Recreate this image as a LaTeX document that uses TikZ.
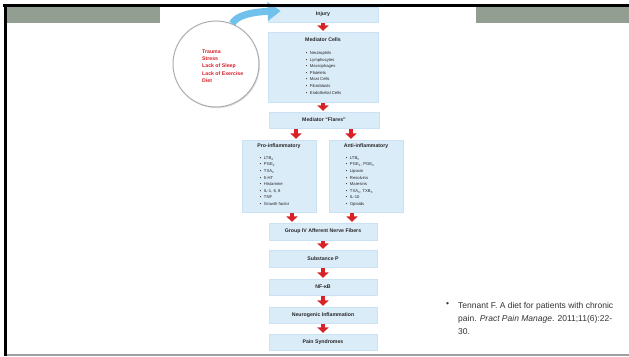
\documentclass[tikz,border=0pt]{standalone}
\usepackage{fontspec}
\setmainfont{Liberation Sans}
\usetikzlibrary{arrows.meta,shadows,calc}
\definecolor{boxblue}{RGB}{219,236,249}
\definecolor{boxedge}{RGB}{202,226,244}
\definecolor{redarrow}{RGB}{216,34,40}
\definecolor{bluearrow}{RGB}{112,193,235}
\definecolor{barcol}{RGB}{146,158,146}
\definecolor{circtext}{RGB}{214,30,40}
\newcommand{\bitem}[1]{\textbullet\hspace{2.6pt}#1}
\begin{document}
\begin{tikzpicture}[x=1pt,y=-1pt,
  flowbox/.style={rectangle, fill=boxblue, draw=boxedge, line width=0.6pt, inner sep=0pt},
  head/.style={font=\fontsize{5.2}{6}\selectfont\bfseries, inner sep=0pt, text=black!85},
  items/.style={font=\fontsize{4.2}{6.6}\selectfont, align=left, inner sep=0pt, anchor=north west, text=black!85},
  redarr/.style={draw=redarrow, line width=4pt, -{Triangle[width=11pt,length=5.5pt]}, shorten <=1pt, shorten >=0.8pt},
  bluearr/.style={draw=bluearrow, line width=7pt, -{Triangle[width=18pt,length=13pt]}},
  risk/.style={circle, draw=gray!65, line width=1pt, fill=white, minimum size=86pt, inner sep=0pt,
    drop shadow={opacity=0.25, shadow xshift=1pt, shadow yshift=-1.2pt}},
  risktext/.style={font=\fontsize{5.2}{7.3}\selectfont\bfseries, text=circtext, align=left, inner sep=0pt, anchor=north west},
  cite/.style={font=\fontsize{8.5}{13}\selectfont, align=left, inner sep=0pt, text=black!80}
]
\useasboundingbox (0,0) rectangle (629,356);

% frame
\fill[barcol] (7,7) rectangle (160,23);
\fill[barcol] (476,7) rectangle (629,23);

% boxes
\node[flowbox, minimum width=110pt, minimum height=15pt] (injury) at (323,14.5) {};
\node[flowbox, minimum width=110pt, minimum height=70pt] (medcells) at (323,67) {};
\node[flowbox, minimum width=110pt, minimum height=16pt] (flares) at (324,120) {};
\node[flowbox, minimum width=74pt, minimum height=72pt] (pro) at (279,176) {};
\node[flowbox, minimum width=74pt, minimum height=72pt] (anti) at (366,176) {};
\node[flowbox, minimum width=108pt, minimum height=17pt] (group) at (323,231.5) {};
\node[flowbox, minimum width=108pt, minimum height=17pt] (subp) at (323,258.5) {};
\node[flowbox, minimum width=108pt, minimum height=16pt] (nfkb) at (323,287) {};
\node[flowbox, minimum width=108pt, minimum height=16pt] (neuro) at (323,315) {};
\node[flowbox, minimum width=108pt, minimum height=16pt] (pain) at (323,342) {};

% box texts
\node[head] (injuryt) at (injury) {Injury};
\node[head] (medcellst) at ([yshift=-8pt]medcells.north) {Mediator Cells};
\node[items] (medcellsl) at ([xshift=38pt,yshift=-19.5pt]medcells.north west)
  {\bitem{Neutrophils}\\\bitem{Lymphocytes}\\\bitem{Macrophages}\\\bitem{Platelets}\\\bitem{Mast Cells}\\\bitem{Fibroblasts}\\\bitem{Endothelial Cells}};
\node[head] (flarest) at (flares) {Mediator ``Flares''};
\node[head] (prot) at ([yshift=-6pt]pro.north) {Pro-inflammatory};
\node[items] (prol) at ([xshift=18pt,yshift=-16.5pt]pro.north west)
  {\bitem{LTB\textsubscript{4}}\\\bitem{PGE\textsubscript{2}}\\\bitem{TXA\textsubscript{2}}\\\bitem{5-HT}\\\bitem{Histamine}\\\bitem{IL-1, 6, 8}\\\bitem{TNF}\\\bitem{Growth factor}};
\node[head] (antit) at ([yshift=-6pt]anti.north) {Anti-inflammatory};
\node[items] (antil) at ([xshift=17pt,yshift=-16.5pt]anti.north west)
  {\bitem{LTB\textsubscript{5}}\\\bitem{PGE\textsubscript{1}, PGE\textsubscript{3}}\\\bitem{Lipoxin}\\\bitem{Resolvins}\\\bitem{Maresins}\\\bitem{TXA\textsubscript{3}, TXB\textsubscript{3}}\\\bitem{IL-10}\\\bitem{Opioids}};
\node[head] (groupt) at (group) {Group IV Afferent Nerve Fibers};
\node[head] (subpt) at (subp) {Substance P};
\node[head] (nfkbt) at (nfkb) {NF-κB};
\node[head] (neurot) at (neuro) {Neurogenic Inflammation};
\node[head] (paint) at (pain) {Pain Syndromes};

% red arrows
\draw[redarr] (injury.south) -- (medcells.north);
\draw[redarr] (medcells.south) -- (medcells.south |- flares.north);
\draw[redarr] ([xshift=17pt]pro.north |- flares.south) -- ([xshift=17pt]pro.north);
\draw[redarr] ([xshift=-15pt]anti.north |- flares.south) -- ([xshift=-15pt]anti.north);
\draw[redarr] ([xshift=13pt]pro.south) -- ([xshift=13pt]pro.south |- group.north);
\draw[redarr] ([xshift=-14pt]anti.south) -- ([xshift=-14pt]anti.south |- group.north);
\draw[redarr] (group.south) -- (subp.north);
\draw[redarr] (subp.south) -- (nfkb.north);
\draw[redarr] (nfkb.south) -- (neuro.north);
\draw[redarr] (neuro.south) -- (pain.north);

% risk circle
\node[risk] (riskc) at (216,64) {};
\node[risktext] (riskl) at (202,49.5) {Trauma\\Stress\\Lack of Sleep\\Lack of Exercise\\Diet};
\draw[bluearr] (riskc.68) .. controls (236,16) and (250,12) .. ([xshift=13pt,yshift=3.5pt]injury.west);

% frame lines
\fill[black] (3,4) rectangle (629,7);
\fill[black] (3.5,4) rectangle (7,356);
\fill[gray!75] (7,354) rectangle (629,356);

% citation
\node[cite, anchor=north west] (bul) at (446,302.5) {\textbullet};
\node[cite, anchor=north west] (citation) at (458,302.5)
  {Tennant F. A diet for patients with chronic\\pain. \textit{Pract Pain Manage}. 2011;11(6):22-\\30.};
\end{tikzpicture}
\end{document}
